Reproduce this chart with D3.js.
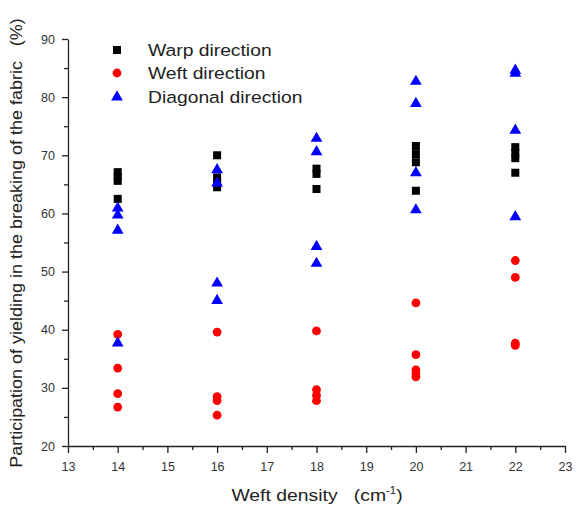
<!DOCTYPE html>
<html>
<head>
<meta charset="utf-8">
<script src="https://cdn.jsdelivr.net/npm/d3@7/dist/d3.min.js"></script>
<style>
  body { margin: 0; background: #fff; }
  svg { font-family: Arial, "Liberation Sans", sans-serif; }
</style>
</head>
<body>
<svg id="chart" width="578" height="514"></svg>
<script>
// ---- data ----
const warpX = [14,14,14,14, 16,16,16,16, 18,18,18, 20,20,20,20, 22,22,22,22];
const warpY = [67.1,66.3,65.6,62.5, 70.0,66.2,65.3,64.5, 67.7,66.8,64.2, 71.6,70.2,68.8,63.9, 71.4,70.4,69.5,67.0];
const weftX = [14,14,14,14, 16,16,16,16, 18,18,18,18, 20,20,20,20,20, 22,22,22,22];
const weftY = [39.2,33.4,29.0,26.7, 39.6,28.5,27.8,25.3, 39.8,29.7,28.7,27.8, 44.6,35.7,33.1,32.5,31.9, 51.9,49.0,37.7,37.3];
const diagX = [14,14,14,14, 16,16,16,16, 18,18,18,18, 20,20,20,20, 22,22,22,22];
const diagY = [60.9,59.7,57.1,37.7, 67.5,65.2,48.0,45.0, 72.9,70.6,54.3,51.4, 82.7,78.9,67.0,60.6, 84.6,84.1,74.3,59.4];
const seriesNames = ["Warp direction", "Weft direction", "Diagonal direction"];
const xTicks = [13,14,15,16,17,18,19,20,21,22,23];
const yTicks = [20,30,40,50,60,70,80,90];
const xTitle = "Weft density";
const yTitle = "Participation of yielding in the breaking of the fabric\u00a0\u00a0\u00a0(%)";

// ---- chart ----
const svg = d3.select("#chart");
const x = d3.scaleLinear().domain([13, 23]).range([68, 565]);
const y = d3.scaleLinear().domain([20, 90]).range([446, 39]);

const axisColor = "#222";
const labelColor = "#333";
const stretch = 1.17;

const xMinor = d3.range(13.5, 23, 1);
const yMinor = d3.range(25, 90, 10);

const gx = svg.append("g").attr("transform", `translate(0,${y(20)})`)
  .call(d3.axisBottom(x).tickValues(xTicks).tickFormat(d3.format("d")).tickSize(7).tickSizeOuter(0));
svg.append("g").attr("transform", `translate(0,${y(20)})`)
  .call(d3.axisBottom(x).tickValues(xMinor).tickFormat("").tickSize(4).tickSizeOuter(0))
  .select(".domain").remove();
const gy = svg.append("g").attr("transform", `translate(${x(13)},0)`)
  .call(d3.axisLeft(y).tickValues(yTicks).tickFormat(d3.format("d")).tickSize(6).tickSizeOuter(0));
svg.append("g").attr("transform", `translate(${x(13)},0)`)
  .call(d3.axisLeft(y).tickValues(yMinor).tickFormat("").tickSize(4).tickSizeOuter(0))
  .select(".domain").remove();

svg.selectAll(".domain, .tick line").attr("stroke", axisColor).attr("stroke-width", 1.3);
gx.selectAll(".tick text").attr("font-size", 12.5).attr("fill", labelColor).attr("dy", "1.2em")
  .attr("font-family", "Arial, 'Liberation Sans', sans-serif");
gy.selectAll(".tick text").attr("font-size", 12.5).attr("fill", labelColor).attr("x", -13)
  .attr("font-family", "Arial, 'Liberation Sans', sans-serif");

// axis titles
const xt = svg.append("text").attr("transform", `translate(317,501) scale(1.14,1)`)
  .attr("text-anchor", "middle").attr("font-size", 17).attr("fill", "#222");
xt.append("tspan").text(xTitle + "\u00a0\u00a0\u00a0(cm");
xt.append("tspan").text("-1").attr("font-size", 10).attr("dy", -7);
xt.append("tspan").text(")").attr("dy", 7);

svg.append("text").attr("transform", `translate(22,243) rotate(-90) scale(1.09,1)`)
  .attr("text-anchor", "middle").attr("font-size", 16.5).attr("fill", "#222").text(yTitle);

// markers
const sq = 8;
svg.append("g").selectAll("rect").data(warpX.map((d, i) => [d, warpY[i]])).join("rect")
  .attr("x", d => x(d[0]) - sq / 2).attr("y", d => y(d[1]) - sq / 2)
  .attr("width", sq).attr("height", sq).attr("fill", "#000");

svg.append("g").selectAll("circle").data(weftX.map((d, i) => [d, weftY[i]])).join("circle")
  .attr("cx", d => x(d[0])).attr("cy", d => y(d[1])).attr("r", 4.4).attr("fill", "#ff0000");

const tri = d3.symbol().type(d3.symbolTriangle).size(60);
svg.append("g").selectAll("path").data(diagX.map((d, i) => [d, diagY[i]])).join("path")
  .attr("d", tri).attr("transform", d => `translate(${x(d[0])},${y(d[1])})`).attr("fill", "#0000ff");

// legend
const legY = [50, 73, 97];
const lg = svg.append("g");
lg.append("rect").attr("x", 117 - 4).attr("y", legY[0] - 4).attr("width", 8).attr("height", 8).attr("fill", "#000");
lg.append("circle").attr("cx", 117).attr("cy", legY[1]).attr("r", 4.4).attr("fill", "#ff0000");
lg.append("path").attr("d", tri).attr("transform", `translate(117,${legY[2]})`).attr("fill", "#0000ff");
seriesNames.forEach((n, i) => {
  lg.append("text").attr("transform", `translate(148,${legY[i]}) scale(${stretch},1)`).attr("dy", "0.36em")
    .attr("font-size", 16.5).attr("fill", "#222").text(n);
});
</script>
</body>
</html>
